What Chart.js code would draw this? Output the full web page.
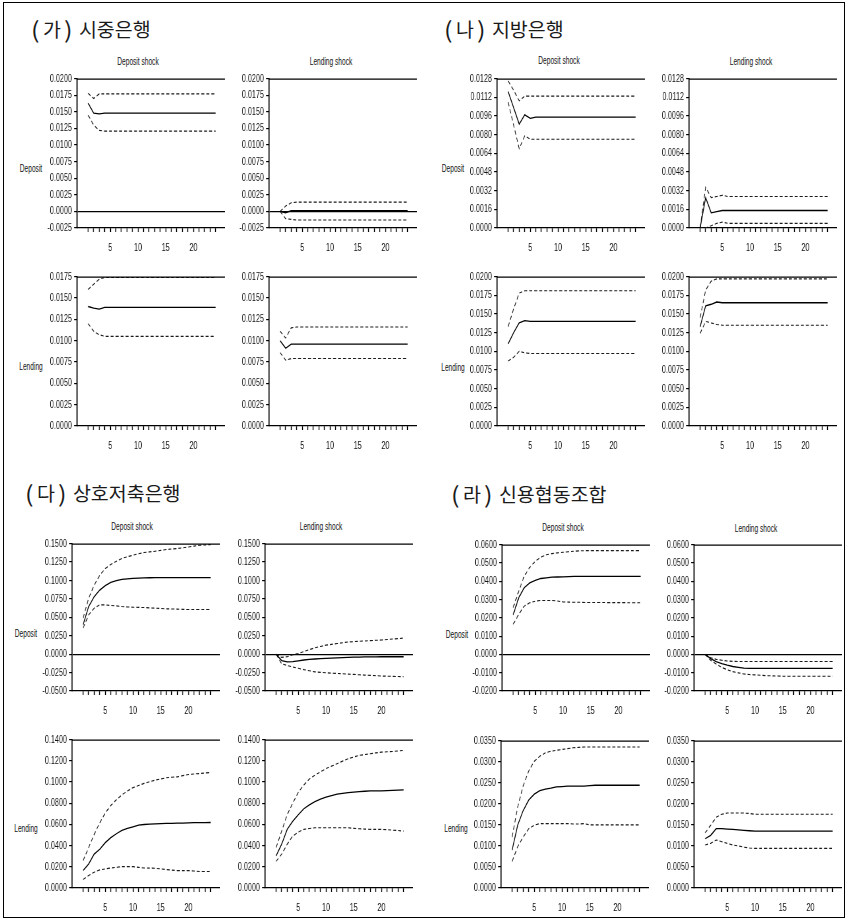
<!DOCTYPE html>
<html>
<head>
<meta charset="utf-8">
<script src="https://cdn.jsdelivr.net/npm/chart.js@4.4.0/dist/chart.umd.min.js"></script>
<style>
body{margin:0;background:#fff;width:847px;height:921px;position:relative;overflow:hidden}
.frame{position:absolute;left:3px;top:2px;width:842px;height:916px;border:1px solid #000;box-sizing:border-box}
.ptitle{position:absolute;font-family:"Noto Sans CJK KR",sans-serif;font-size:19.5px;line-height:20px;color:#1a1a1a;white-space:nowrap}
.ptitle b{font-weight:normal;margin-right:7px}
.ptitle i{font-style:normal;display:inline-block;transform:scale(1.3,1.15)}
.small{position:absolute;font-family:"Liberation Sans",Arial,sans-serif;font-size:11px;line-height:11px;color:#111;white-space:nowrap;transform:translate(-50%,-50%) scaleX(0.6)}
canvas{position:absolute}
</style>
</head>
<body>
<div class="frame"></div>
<div class="ptitle" style="left:32px;top:19px"><b><i>(</i> 가 <i>)</i></b>시중은행</div>
<div class="ptitle" style="left:445px;top:19px"><b><i>(</i> 나 <i>)</i></b>지방은행</div>
<div class="ptitle" style="left:26px;top:483px"><b><i>(</i> 다 <i>)</i></b>상호저축은행</div>
<div class="ptitle" style="left:452px;top:484px"><b><i>(</i> 라 <i>)</i></b>신용협동조합</div>

<div class="small" style="left:138px;top:61px">Deposit shock</div>
<div class="small" style="left:331px;top:61px">Lending shock</div>
<div class="small" style="left:559px;top:60px">Deposit shock</div>
<div class="small" style="left:751px;top:61px">Lending shock</div>
<div class="small" style="left:132px;top:526px">Deposit shock</div>
<div class="small" style="left:321px;top:526px">Lending shock</div>
<div class="small" style="left:563px;top:527px">Deposit shock</div>
<div class="small" style="left:756px;top:528px">Lending shock</div>

<div class="small" style="left:31px;top:168px">Deposit</div>
<div class="small" style="left:31px;top:366px">Lending</div>
<div class="small" style="left:453px;top:168px">Deposit</div>
<div class="small" style="left:453px;top:367px">Lending</div>
<div class="small" style="left:26px;top:633px">Deposit</div>
<div class="small" style="left:26px;top:828px">Lending</div>
<div class="small" style="left:457px;top:634px">Deposit</div>
<div class="small" style="left:456px;top:828px">Lending</div>

<script>
const periods = [1,2,3,4,5,6,7,8,9,10,11,12,13,14,15,16,17,18,19,20,21,22,23,24];

// y tick values
const gaDepTicks = [-0.0025,0,0.0025,0.005,0.0075,0.01,0.0125,0.015,0.0175,0.02];
const gaLenTicks = [0,0.0025,0.005,0.0075,0.01,0.0125,0.015,0.0175];
const naDepTicks = [0,0.0016,0.0032,0.0048,0.0064,0.008,0.0096,0.0112,0.0128];
const naLenTicks = [0,0.0025,0.005,0.0075,0.01,0.0125,0.015,0.0175,0.02];
const daDepTicks = [-0.05,-0.025,0,0.025,0.05,0.075,0.1,0.125,0.15];
const daLenTicks = [0,0.02,0.04,0.06,0.08,0.1,0.12,0.14];
const raDepTicks = [-0.02,-0.01,0,0.01,0.02,0.03,0.04,0.05,0.06];
const raLenTicks = [0,0.005,0.01,0.015,0.02,0.025,0.03,0.035];

// (가) 시중은행 : DD = deposit shock -> deposit, LD = lending shock -> deposit, etc.
const gaDD   = [0.0163,0.0148,0.0147,0.0148,0.0148,0.0148,0.0148,0.0148,0.0148,0.0148,0.0148,0.0148,0.0148,0.0148,0.0148,0.0148,0.0148,0.0148,0.0148,0.0148,0.0148,0.0148,0.0148,0.0148];
const gaDDup = [0.0178,0.0170,0.0177,0.0177,0.0177,0.0177,0.0177,0.0177,0.0177,0.0177,0.0177,0.0177,0.0177,0.0177,0.0177,0.0177,0.0177,0.0177,0.0177,0.0177,0.0177,0.0177,0.0177,0.0177];
const gaDDlo = [0.0145,0.0130,0.0122,0.0121,0.0121,0.0121,0.0121,0.0121,0.0121,0.0121,0.0121,0.0121,0.0121,0.0121,0.0121,0.0121,0.0121,0.0121,0.0121,0.0121,0.0121,0.0121,0.0121,0.0121];
const gaLD   = [0,-0.0002,0.0001,0.0001,0.0001,0.0001,0.0001,0.0001,0.0001,0.0001,0.0001,0.0001,0.0001,0.0001,0.0001,0.0001,0.0001,0.0001,0.0001,0.0001,0.0001,0.0001,0.0001,0.0001];
const gaLDup = [0,0.0008,0.0013,0.0014,0.0014,0.0014,0.0014,0.0014,0.0014,0.0014,0.0014,0.0014,0.0014,0.0014,0.0014,0.0014,0.0014,0.0014,0.0014,0.0014,0.0014,0.0014,0.0014,0.0014];
const gaLDlo = [0,-0.0011,-0.0012,-0.0013,-0.0013,-0.0013,-0.0013,-0.0013,-0.0013,-0.0013,-0.0013,-0.0013,-0.0013,-0.0013,-0.0013,-0.0013,-0.0013,-0.0013,-0.0013,-0.0013,-0.0013,-0.0013,-0.0013,-0.0013];
const gaDL   = [0.0140,0.0138,0.0137,0.0139,0.0139,0.0139,0.0139,0.0139,0.0139,0.0139,0.0139,0.0139,0.0139,0.0139,0.0139,0.0139,0.0139,0.0139,0.0139,0.0139,0.0139,0.0139,0.0139,0.0139];
const gaDLup = [0.0160,0.0166,0.0172,0.0174,0.0174,0.0174,0.0174,0.0174,0.0174,0.0174,0.0174,0.0174,0.0174,0.0174,0.0174,0.0174,0.0174,0.0174,0.0174,0.0174,0.0174,0.0174,0.0174,0.0174];
const gaDLlo = [0.0120,0.0111,0.0107,0.0105,0.0105,0.0105,0.0105,0.0105,0.0105,0.0105,0.0105,0.0105,0.0105,0.0105,0.0105,0.0105,0.0105,0.0105,0.0105,0.0105,0.0105,0.0105,0.0105,0.0105];
const gaLL   = [0.0100,0.0091,0.0096,0.0096,0.0096,0.0096,0.0096,0.0096,0.0096,0.0096,0.0096,0.0096,0.0096,0.0096,0.0096,0.0096,0.0096,0.0096,0.0096,0.0096,0.0096,0.0096,0.0096,0.0096];
const gaLLup = [0.0111,0.0103,0.0115,0.0116,0.0116,0.0116,0.0116,0.0116,0.0116,0.0116,0.0116,0.0116,0.0116,0.0116,0.0116,0.0116,0.0116,0.0116,0.0116,0.0116,0.0116,0.0116,0.0116,0.0116];
const gaLLlo = [0.0086,0.0077,0.0079,0.0079,0.0079,0.0079,0.0079,0.0079,0.0079,0.0079,0.0079,0.0079,0.0079,0.0079,0.0079,0.0079,0.0079,0.0079,0.0079,0.0079,0.0079,0.0079,0.0079,0.0079];

// (나) 지방은행
const naDD   = [0.0117,0.0103,0.0089,0.0097,0.0094,0.0095,0.0095,0.0095,0.0095,0.0095,0.0095,0.0095,0.0095,0.0095,0.0095,0.0095,0.0095,0.0095,0.0095,0.0095,0.0095,0.0095,0.0095,0.0095];
const naDDup = [0.0126,0.0118,0.0109,0.0113,0.0113,0.0113,0.0113,0.0113,0.0113,0.0113,0.0113,0.0113,0.0113,0.0113,0.0113,0.0113,0.0113,0.0113,0.0113,0.0113,0.0113,0.0113,0.0113,0.0113];
const naDDlo = [0.0108,0.0088,0.0068,0.0079,0.0076,0.0076,0.0076,0.0076,0.0076,0.0076,0.0076,0.0076,0.0076,0.0076,0.0076,0.0076,0.0076,0.0076,0.0076,0.0076,0.0076,0.0076,0.0076,0.0076];
const naLD   = [0,0.0026,0.0013,0.0014,0.0015,0.0015,0.0015,0.0015,0.0015,0.0015,0.0015,0.0015,0.0015,0.0015,0.0015,0.0015,0.0015,0.0015,0.0015,0.0015,0.0015,0.0015,0.0015,0.0015];
const naLDup = [0,0.0035,0.0026,0.0027,0.0028,0.0027,0.0027,0.0027,0.0027,0.0027,0.0027,0.0027,0.0027,0.0027,0.0027,0.0027,0.0027,0.0027,0.0027,0.0027,0.0027,0.0027,0.0027,0.0027];
const naLDlo = [0,0.0000,0.0002,0.0004,0.0005,0.0004,0.0004,0.0004,0.0004,0.0004,0.0004,0.0004,0.0004,0.0004,0.0004,0.0004,0.0004,0.0004,0.0004,0.0004,0.0004,0.0004,0.0004,0.0004];
const naDL   = [0.0110,0.0125,0.0138,0.0141,0.0140,0.0140,0.0140,0.0140,0.0140,0.0140,0.0140,0.0140,0.0140,0.0140,0.0140,0.0140,0.0140,0.0140,0.0140,0.0140,0.0140,0.0140,0.0140,0.0140];
const naDLup = [0.0133,0.0157,0.0178,0.0181,0.0181,0.0181,0.0181,0.0181,0.0181,0.0181,0.0181,0.0181,0.0181,0.0181,0.0181,0.0181,0.0181,0.0181,0.0181,0.0181,0.0181,0.0181,0.0181,0.0181];
const naDLlo = [0.0087,0.0092,0.0100,0.0098,0.0097,0.0097,0.0097,0.0097,0.0097,0.0097,0.0097,0.0097,0.0097,0.0097,0.0097,0.0097,0.0097,0.0097,0.0097,0.0097,0.0097,0.0097,0.0097,0.0097];
const naLL   = [0.0133,0.0161,0.0163,0.0166,0.0165,0.0165,0.0165,0.0165,0.0165,0.0165,0.0165,0.0165,0.0165,0.0165,0.0165,0.0165,0.0165,0.0165,0.0165,0.0165,0.0165,0.0165,0.0165,0.0165];
const naLLup = [0.0145,0.0182,0.0194,0.0197,0.0197,0.0197,0.0197,0.0197,0.0197,0.0197,0.0197,0.0197,0.0197,0.0197,0.0197,0.0197,0.0197,0.0197,0.0197,0.0197,0.0197,0.0197,0.0197,0.0197];
const naLLlo = [0.0124,0.0140,0.0138,0.0136,0.0135,0.0135,0.0135,0.0135,0.0135,0.0135,0.0135,0.0135,0.0135,0.0135,0.0135,0.0135,0.0135,0.0135,0.0135,0.0135,0.0135,0.0135,0.0135,0.0135];

// (다) 상호저축은행
const daDD   = [0.0400,0.0646,0.0780,0.0870,0.0930,0.0974,0.0997,0.1015,0.1022,0.1028,0.1031,0.1034,0.1037,0.1038,0.1038,0.1039,0.1039,0.1039,0.1040,0.1040,0.1040,0.1040,0.1040,0.1040];
const daDDup = [0.0489,0.0758,0.0938,0.1070,0.1163,0.1217,0.1260,0.1300,0.1322,0.1343,0.1362,0.1379,0.1388,0.1397,0.1408,0.1420,0.1427,0.1433,0.1444,0.1455,0.1466,0.1478,0.1482,0.1487];
const daDDlo = [0.0354,0.0534,0.0624,0.0669,0.0669,0.0660,0.0655,0.0646,0.0641,0.0637,0.0635,0.0633,0.0628,0.0624,0.0620,0.0615,0.0613,0.0611,0.0608,0.0606,0.0606,0.0606,0.0606,0.0606];
const daLD   = [0,-0.0087,-0.0105,-0.0100,-0.0090,-0.0079,-0.0072,-0.0066,-0.0061,-0.0057,-0.0053,-0.0050,-0.0047,-0.0044,-0.0041,-0.0039,-0.0038,-0.0037,-0.0036,-0.0035,-0.0035,-0.0035,-0.0035,-0.0035];
const daLDup = [0,-0.0044,-0.0035,-0.0009,0.0009,0.0035,0.0061,0.0087,0.0105,0.0122,0.0133,0.0144,0.0155,0.0166,0.0170,0.0175,0.0179,0.0183,0.0188,0.0192,0.0198,0.0205,0.0211,0.0218];
const daLDlo = [0,-0.0131,-0.0153,-0.0175,-0.0192,-0.0210,-0.0225,-0.0240,-0.0247,-0.0253,-0.0258,-0.0262,-0.0266,-0.0271,-0.0275,-0.0280,-0.0284,-0.0288,-0.0292,-0.0297,-0.0299,-0.0301,-0.0304,-0.0306];
const daDL   = [0.0165,0.0227,0.0320,0.0366,0.0428,0.0475,0.0512,0.0543,0.0562,0.0577,0.0593,0.0599,0.0602,0.0605,0.0607,0.0609,0.0610,0.0612,0.0613,0.0615,0.0616,0.0617,0.0617,0.0618];
const daDLup = [0.0258,0.0382,0.0506,0.0615,0.0708,0.0779,0.0832,0.0878,0.0916,0.0947,0.0967,0.0987,0.1003,0.1018,0.1029,0.1040,0.1045,0.1049,0.1060,0.1071,0.1076,0.1080,0.1085,0.1090];
const daDLlo = [0.0081,0.0118,0.0149,0.0171,0.0180,0.0189,0.0196,0.0202,0.0202,0.0202,0.0195,0.0189,0.0188,0.0186,0.0180,0.0174,0.0169,0.0164,0.0164,0.0164,0.0160,0.0155,0.0155,0.0155];
const daLL   = [0.0304,0.0413,0.0553,0.0630,0.0692,0.0748,0.0785,0.0816,0.0838,0.0857,0.0871,0.0885,0.0893,0.0900,0.0905,0.0910,0.0913,0.0916,0.0916,0.0916,0.0919,0.0922,0.0924,0.0925];
const daLLup = [0.0382,0.0537,0.0692,0.0801,0.0903,0.0972,0.1028,0.1065,0.1096,0.1127,0.1150,0.1173,0.1197,0.1220,0.1236,0.1251,0.1259,0.1267,0.1275,0.1282,0.1285,0.1288,0.1293,0.1298];
const daLLlo = [0.0251,0.0320,0.0413,0.0490,0.0528,0.0553,0.0562,0.0568,0.0568,0.0568,0.0568,0.0568,0.0568,0.0568,0.0563,0.0559,0.0556,0.0553,0.0553,0.0553,0.0550,0.0546,0.0542,0.0537];

// (라) 신용협동조합
const raDD   = [0.0215,0.0309,0.0364,0.0391,0.0405,0.0415,0.0418,0.0422,0.0423,0.0424,0.0425,0.0426,0.0426,0.0427,0.0427,0.0427,0.0427,0.0427,0.0427,0.0427,0.0427,0.0427,0.0427,0.0427];
const raDDup = [0.0255,0.0345,0.0427,0.0476,0.0509,0.0531,0.0545,0.0551,0.0555,0.0558,0.0561,0.0564,0.0566,0.0567,0.0567,0.0567,0.0567,0.0567,0.0567,0.0567,0.0567,0.0567,0.0567,0.0567];
const raDDlo = [0.0164,0.0218,0.0264,0.0282,0.0291,0.0295,0.0295,0.0295,0.0292,0.0287,0.0286,0.0285,0.0285,0.0284,0.0284,0.0284,0.0284,0.0283,0.0283,0.0283,0.0283,0.0282,0.0282,0.0282];
const raLD   = [0,-0.0023,-0.0039,-0.0050,-0.0059,-0.0066,-0.0071,-0.0075,-0.0076,-0.0076,-0.0076,-0.0076,-0.0076,-0.0076,-0.0076,-0.0076,-0.0076,-0.0076,-0.0076,-0.0076,-0.0076,-0.0076,-0.0076,-0.0076];
const raLDup = [0,-0.0018,-0.0027,-0.0032,-0.0036,-0.0038,-0.0039,-0.0039,-0.0039,-0.0039,-0.0039,-0.0039,-0.0039,-0.0039,-0.0039,-0.0039,-0.0039,-0.0039,-0.0039,-0.0039,-0.0039,-0.0039,-0.0039,-0.0039];
const raLDlo = [0,-0.0032,-0.0053,-0.0071,-0.0084,-0.0094,-0.0101,-0.0107,-0.0110,-0.0112,-0.0114,-0.0116,-0.0117,-0.0118,-0.0119,-0.0119,-0.0119,-0.0119,-0.0119,-0.0119,-0.0119,-0.0119,-0.0119,-0.0119];
const raDL   = [0.0090,0.0149,0.0184,0.0209,0.0223,0.0231,0.0235,0.0237,0.0240,0.0241,0.0242,0.0242,0.0242,0.0242,0.0243,0.0244,0.0244,0.0244,0.0244,0.0244,0.0244,0.0244,0.0244,0.0244];
const raDLup = [0.0121,0.0192,0.0243,0.0278,0.0301,0.0313,0.0321,0.0325,0.0327,0.0329,0.0331,0.0333,0.0334,0.0335,0.0335,0.0335,0.0335,0.0335,0.0335,0.0335,0.0335,0.0335,0.0335,0.0335];
const raDLlo = [0.0063,0.0098,0.0121,0.0141,0.0149,0.0153,0.0153,0.0153,0.0153,0.0153,0.0153,0.0152,0.0152,0.0153,0.0150,0.0150,0.0150,0.0150,0.0150,0.0150,0.0150,0.0150,0.0150,0.0150];
const raLL   = [0.0117,0.0125,0.0141,0.0141,0.0140,0.0139,0.0138,0.0137,0.0136,0.0135,0.0135,0.0135,0.0135,0.0135,0.0135,0.0135,0.0135,0.0135,0.0135,0.0135,0.0135,0.0135,0.0135,0.0135];
const raLLup = [0.0131,0.0149,0.0168,0.0175,0.0178,0.0178,0.0178,0.0178,0.0177,0.0175,0.0175,0.0175,0.0175,0.0175,0.0175,0.0175,0.0175,0.0175,0.0175,0.0175,0.0175,0.0175,0.0175,0.0175];
const raLLlo = [0.0102,0.0106,0.0114,0.0110,0.0106,0.0102,0.0100,0.0097,0.0095,0.0094,0.0094,0.0094,0.0094,0.0094,0.0094,0.0094,0.0094,0.0094,0.0094,0.0094,0.0094,0.0094,0.0094,0.0094];

// layout of each small plot (plot-area left/top/height, css px)
const Y_W = 52, X_H = 30, PAD_T = 8, PAD_R = 4, PLOT_W = 148;
// the canvas is drawn wider and squeezed horizontally to get the narrow lettering
const SQ = 0.66;
const plots = [
  {x:77,  y:77,  h:151, ticks:gaDepTicks, s:[gaDD, gaDDup, gaDDlo]},
  {x:269, y:77,  h:151, ticks:gaDepTicks, s:[gaLD, gaLDup, gaLDlo]},
  {x:77,  y:275, h:151, ticks:gaLenTicks, s:[gaDL, gaDLup, gaDLlo]},
  {x:269, y:275, h:151, ticks:gaLenTicks, s:[gaLL, gaLLup, gaLLlo]},
  {x:497, y:77,  h:151, ticks:naDepTicks, s:[naDD, naDDup, naDDlo]},
  {x:689, y:77,  h:151, ticks:naDepTicks, s:[naLD, naLDup, naLDlo]},
  {x:497, y:275, h:151, ticks:naLenTicks, s:[naDL, naDLup, naDLlo]},
  {x:689, y:275, h:151, ticks:naLenTicks, s:[naLL, naLLup, naLLlo]},
  {x:72,  y:542, h:149, ticks:daDepTicks, s:[daDD, daDDup, daDDlo]},
  {x:265, y:542, h:149, ticks:daDepTicks, s:[daLD, daLDup, daLDlo]},
  {x:72,  y:738, h:150, ticks:daLenTicks, s:[daDL, daDLup, daDLlo]},
  {x:265, y:738, h:150, ticks:daLenTicks, s:[daLL, daLLup, daLLlo]},
  {x:502, y:543, h:148, ticks:raDepTicks, s:[raDD, raDDup, raDDlo]},
  {x:694, y:543, h:148, ticks:raDepTicks, s:[raLD, raLDup, raLDlo]},
  {x:501, y:739, h:149, ticks:raLenTicks, s:[raDL, raDLup, raDLlo]},
  {x:694, y:739, h:149, ticks:raLenTicks, s:[raLL, raLLup, raLLlo]}
];

const tickFont = {family:"'Liberation Sans',Arial,sans-serif", size:11};

const topBorder = {
  id: 'topBorder',
  afterDraw(chart) {
    const a = chart.chartArea, c = chart.ctx;
    c.save();
    c.strokeStyle = '#000';
    c.lineWidth = 1.2;
    c.beginPath();
    c.moveTo(a.left, a.top + 0.5);
    c.lineTo(a.right, a.top + 0.5);
    c.stroke();
    c.restore();
  }
};

function toPts(arr) {
  return arr.map((v, i) => ({x: periods[i], y: v}));
}

function makeChart(p) {
  const cv = document.createElement('canvas');
  const W = Y_W + PLOT_W + PAD_R, H = PAD_T + p.h + X_H;
  cv.width = Math.round(W / SQ); cv.height = H;
  cv.style.width = W + 'px'; cv.style.height = H + 'px';
  cv.style.left = (p.x - Y_W) + 'px';
  cv.style.top = (p.y - PAD_T) + 'px';
  document.body.appendChild(cv);
  const tks = p.ticks;
  const yMin = tks[0], yMax = tks[tks.length - 1];
  const dash = [3 / SQ, 2 / SQ];
  new Chart(cv, {
    type: 'line',
    data: {
      datasets: [
        {data: toPts(p.s[0]), borderColor: '#000', borderWidth: 1.3},
        {data: toPts(p.s[1]), borderColor: '#1a1a1a', borderWidth: 1.1, borderDash: dash},
        {data: toPts(p.s[2]), borderColor: '#1a1a1a', borderWidth: 1.1, borderDash: dash}
      ]
    },
    options: {
      responsive: false,
      animation: false,
      devicePixelRatio: 1,
      layout: {padding: {top: PAD_T, right: PAD_R / SQ, left: 0, bottom: 0}},
      elements: {point: {radius: 0}, line: {tension: 0}},
      plugins: {legend: {display: false}, tooltip: {enabled: false}},
      scales: {
        x: {
          type: 'linear', min: -1, max: 25.7,
          afterBuildTicks: s => { s.ticks = periods.map(v => ({value: v})); },
          afterFit: s => { s.height = X_H; },
          ticks: {autoSkip: false, maxRotation: 0, padding: 9, font: tickFont, color: '#111',
                  callback: v => (v % 5 === 0 ? String(v) : '')},
          grid: {drawOnChartArea: false, drawTicks: true, tickLength: 4, tickColor: '#000', tickWidth: 1.4},
          border: {color: '#000', width: 1.2}
        },
        y: {
          min: yMin, max: yMax,
          afterBuildTicks: s => { s.ticks = tks.map(v => ({value: v})); },
          afterFit: s => { s.width = Y_W / SQ; },
          ticks: {padding: 2 / SQ, font: tickFont, color: '#111',
                  callback: v => (Math.abs(v) < 1e-12 ? 0 : v).toFixed(4)},
          grid: {
            drawOnChartArea: true, drawTicks: true, tickLength: 3 / SQ, tickColor: '#000',
            color: ctx => (ctx.tick && Math.abs(ctx.tick.value) < 1e-12 && yMin < 0 ? '#000' : 'rgba(0,0,0,0)'),
            lineWidth: 1.2
          },
          border: {color: '#000', width: 1.6}
        }
      }
    },
    plugins: [topBorder]
  });
}

plots.forEach(makeChart);
</script>
</body>
</html>
